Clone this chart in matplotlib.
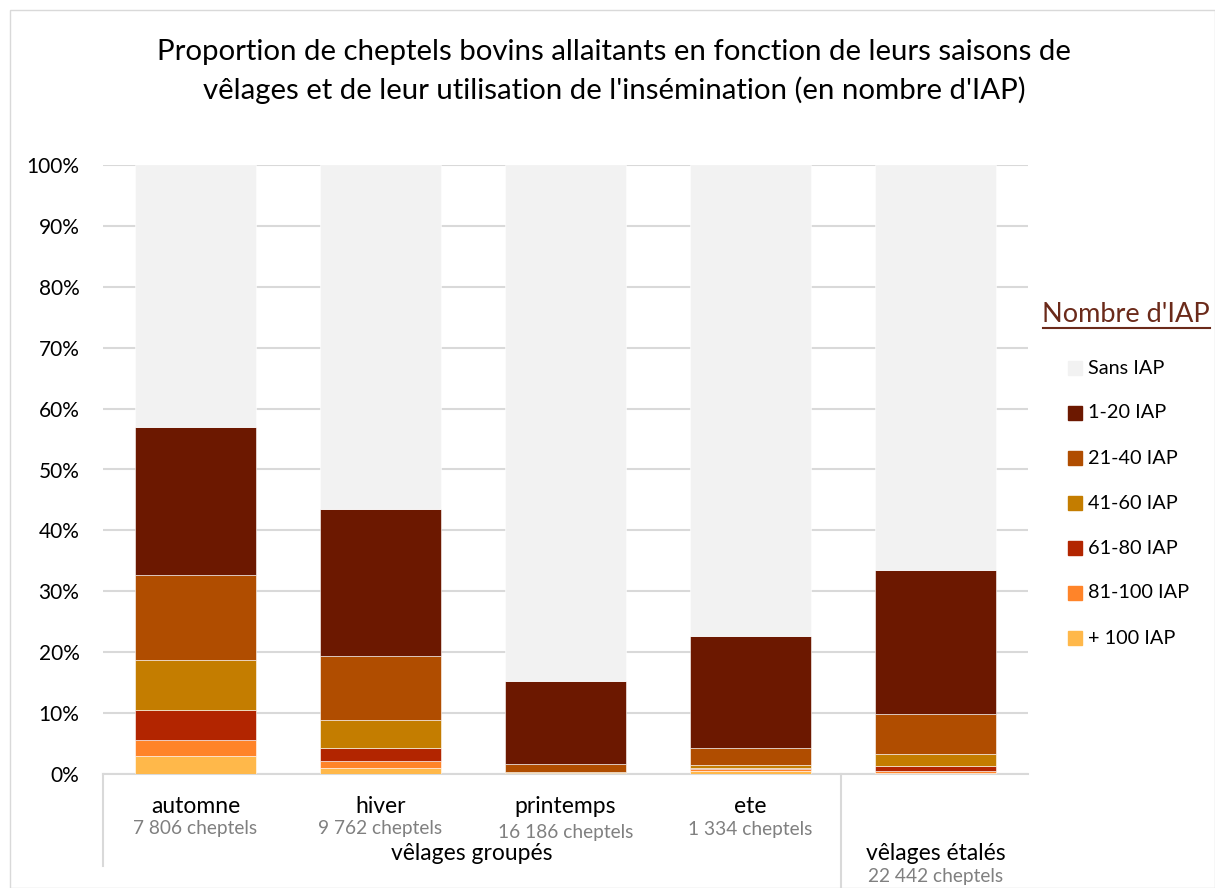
import matplotlib
matplotlib.use("Agg")
import matplotlib.pyplot as plt
import matplotlib.transforms as mtransforms
from matplotlib.patches import Rectangle
from matplotlib.lines import Line2D
import numpy as np

plt.rcParams['font.family'] = ['Lato', 'DejaVu Sans']

categories = ["automne", "hiver", "printemps", "ete", "vêlages étalés"]
cheptels = ["7 806 cheptels", "9 762 cheptels", "16 186 cheptels", "1 334 cheptels", "22 442 cheptels"]
series_names = ["+ 100 IAP", "81-100 IAP", "61-80 IAP", "41-60 IAP", "21-40 IAP", "1-20 IAP", "Sans IAP"]
plus100 = [3.0, 1.0, 0.05, 0.5, 0.2]
iap81_100 = [2.6, 1.1, 0.05, 0.3, 0.25]
iap61_80 = [4.9, 2.2, 0.1, 0.2, 0.8]
iap41_60 = [8.2, 4.6, 0.15, 0.5, 2.0]
iap21_40 = [14.0, 10.5, 1.3, 2.8, 6.6]
iap1_20 = [24.3, 24.1, 13.6, 18.4, 23.6]
sans = [43.0, 56.5, 84.7, 77.3, 66.5]
colors = ["#FFB84A", "#FF8429", "#B22500", "#C47D00", "#B04D00", "#6C1800", "#F2F2F2"]

W, H = 1215, 888
fig = plt.figure(figsize=(W / 100, H / 100), dpi=100)

def fx(x):
    return x / W

def fy(y):
    return 1 - y / H

ax = fig.add_axes([fx(103), fy(774), fx(1028) - fx(103), fy(165) - fy(774)])

data = [plus100, iap81_100, iap61_80, iap41_60, iap21_40, iap1_20, sans]
x = np.arange(len(categories))
bottom = np.zeros(len(categories))
for vals, c, name in zip(data, colors, series_names):
    vals = np.array(vals)
    ax.bar(x, vals, 0.65, bottom=bottom, color=c, edgecolor="white", linewidth=0.4, zorder=3, label=name)
    bottom += vals

ax.set_xlim(-0.5, len(categories) - 0.5)
ax.set_ylim(0, 100)
ax.set_yticks(np.arange(0, 101, 10))
ax.set_yticklabels([f"{v}%" for v in range(0, 101, 10)], fontsize=15, color="#000000")
ax.yaxis.grid(True, color="#D9D9D9", linewidth=1.5, zorder=0)
ax.set_axisbelow(True)
for s in ["left", "right", "top"]:
    ax.spines[s].set_visible(False)
ax.spines["bottom"].set_color("#D9D9D9")
ax.spines["bottom"].set_linewidth(1.5)
ax.tick_params(axis="y", length=0, pad=17)
ax.tick_params(axis="x", length=0, labelbottom=False)

trans = mtransforms.blended_transform_factory(ax.transData, fig.transFigure)
label_y = [806, 806, 806, 806]
chep_y = [828, 828, 832, 829]
for i in range(4):
    fig.text(x[i], fy(label_y[i]), categories[i], transform=trans, ha="center", va="center", fontsize=16.5, color="#000000")
    fig.text(x[i], fy(chep_y[i]), cheptels[i], transform=trans, ha="center", va="center", fontsize=13.8, color="#808080")
fig.text(x[4], fy(853), categories[4], transform=trans, ha="center", va="center", fontsize=16.5, color="#000000")
fig.text(x[4], fy(876), cheptels[4], transform=trans, ha="center", va="center", fontsize=13.8, color="#808080")
fig.text(fx(472), fy(853), "vêlages groupés", ha="center", va="center", fontsize=16.5, color="#000000")

# category axis separator lines
fig.add_artist(Line2D([fx(103), fx(103)], [fy(774), fy(866)], color="#D9D9D9", linewidth=1.5))
fig.add_artist(Line2D([fx(841), fx(841)], [fy(774), fy(888)], color="#D9D9D9", linewidth=1.5))

# title
fig.text(fx(614), fy(52), "Proportion de cheptels bovins allaitants en fonction de leurs saisons de",
         ha="center", va="center", fontsize=21.2, color="#000000")
fig.text(fx(614), fy(90), "vêlages et de leur utilisation de l'insémination (en nombre d'IAP)",
         ha="center", va="center", fontsize=21.2, color="#000000")

# legend
fig.text(fx(1126), fy(314), "Nombre d'IAP", ha="center", va="center", fontsize=19.5, color="#6B2A1A")
fig.add_artist(Line2D([fx(1043), fx(1210)], [fy(328), fy(328)], color="#6B2A1A", linewidth=1.5))
leg_order = ["Sans IAP", "1-20 IAP", "21-40 IAP", "41-60 IAP", "61-80 IAP", "81-100 IAP", "+ 100 IAP"]
for k, name in enumerate(leg_order):
    idx = series_names.index(name)
    yy = 368 + 45 * k
    fig.add_artist(Rectangle((fx(1068), fy(yy + 7)), fx(14), 14 / H, color=colors[idx], transform=fig.transFigure))
    fig.text(fx(1088), fy(yy), name, ha="left", va="center", fontsize=14.3, color="#000000")

# outer border
fig.add_artist(Rectangle((fx(10), fy(888)), fx(1215 - 10), fy(10) - fy(888), fill=False,
                         edgecolor="#D9D9D9", linewidth=1, transform=fig.transFigure))

fig.savefig("out.png", dpi=100, facecolor="white")
